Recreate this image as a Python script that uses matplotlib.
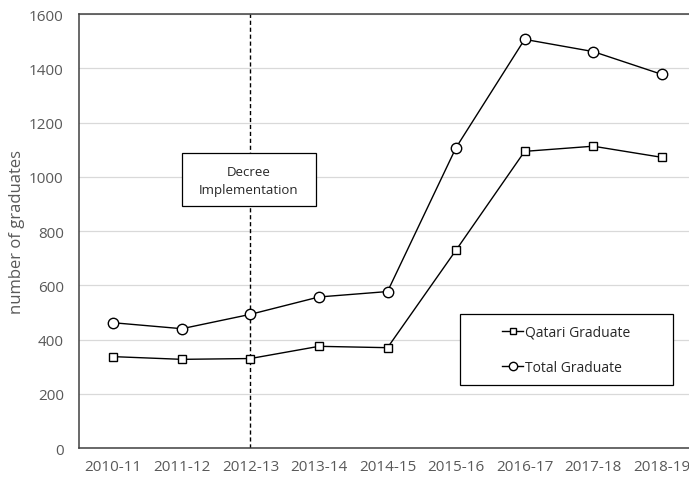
import numpy as np
import matplotlib.pyplot as plt
from matplotlib.patches import Rectangle

plt.rcParams['font.family'] = ['Open Sans', 'DejaVu Sans']

years = ["2010-11", "2011-12", "2012-13", "2013-14", "2014-15",
         "2015-16", "2016-17", "2017-18", "2018-19"]
qatari = [337, 327, 330, 375, 370, 730, 1094, 1113, 1072]
total = [462, 440, 493, 557, 577, 1108, 1507, 1462, 1378]
decree_year = "2012-13"

grey = "#595959"
x = np.arange(len(years))

fig = plt.figure(figsize=(6.89, 4.81), dpi=100)
ax = fig.add_axes([0.1147, 0.0665, 0.8955, 0.902])

ax.plot(x, qatari, color="black", lw=1, marker="s", ms=6, mfc="white",
        mec="black", mew=1, label="Qatari Graduate", zorder=4)
ax.plot(x, total, color="black", lw=1, marker="o", ms=7.5, mfc="white",
        mec="black", mew=1, label="Total Graduate", zorder=4)

# decree line and label
xd = years.index(decree_year)
ax.axvline(xd, color="black", lw=1, ls=(0, (3, 2)), zorder=2)
ax.add_patch(Rectangle((1.0, 892), 1.96, 196, facecolor="white",
                       edgecolor="black", lw=0.9, zorder=3))
ax.text(1.98, 985, "Decree\nImplementation", ha="center", va="center",
        fontsize=9.5, color="#262626", linespacing=1.5, zorder=5)

# legend with separate frame
ax.add_patch(Rectangle((0.617, 0.145), 0.345, 0.164, transform=ax.transAxes,
                       facecolor="white", edgecolor="black", lw=0.9, zorder=3))
leg = ax.legend(loc="center", bbox_to_anchor=(0.79, 0.227), frameon=False,
                fontsize=10, handlelength=1.5, handletextpad=0.15,
                labelspacing=1.45, borderaxespad=0, markerscale=0.8)
leg.set_zorder(6)
for t in leg.get_texts():
    t.set_color("#262626")

ax.set_xlim(-0.5, 8.5)
ax.set_ylim(0, 1600)
ax.set_yticks(range(0, 1601, 200))
ax.set_xticks(x)
ax.set_xticklabels(years)
ax.tick_params(axis="both", length=0, labelsize=11, colors=grey)
ax.tick_params(axis="y", pad=11)
ax.tick_params(axis="x", pad=8)
ax.set_ylabel("number of graduates", fontsize=12, color=grey, labelpad=3)
ax.grid(axis="y", color="#d9d9d9", lw=0.9, zorder=0)
ax.set_axisbelow(True)
for s in ["left", "bottom", "top"]:
    ax.spines[s].set_color("#404040")
    ax.spines[s].set_linewidth(1.1)
ax.spines["right"].set_visible(False)

fig.savefig("out.png", dpi=100)
